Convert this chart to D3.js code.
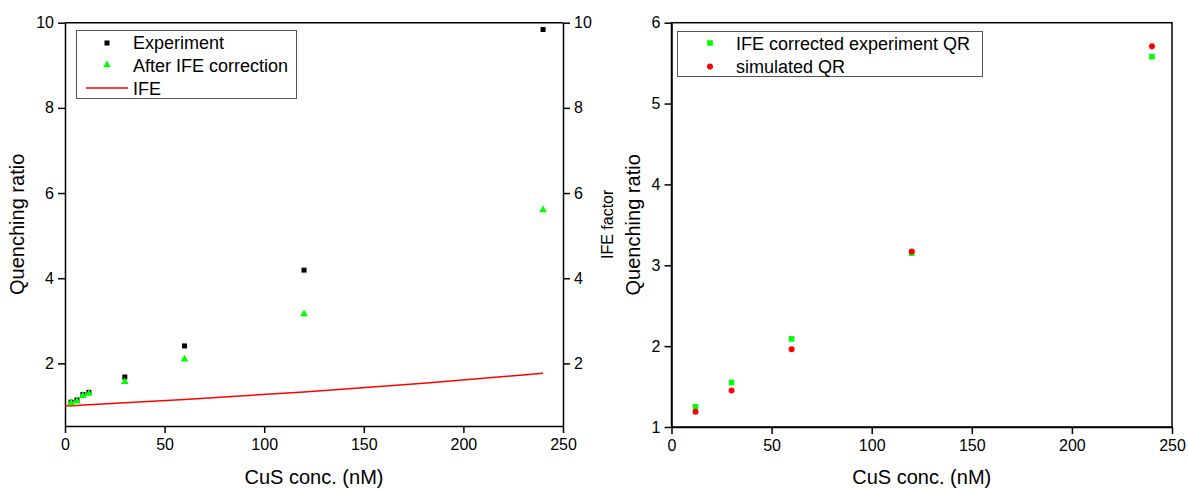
<!DOCTYPE html>
<html>
<head>
<meta charset="utf-8">
<script src="https://cdn.jsdelivr.net/npm/d3@7"></script>
<style>
body { margin: 0; background: #fff; }
svg text { font-family: "Liberation Sans", Arial, sans-serif; fill: #000; }
.tick text { font-size: 16px; }
.domain, .tick line { stroke: #000; stroke-width: 1.5px; }
</style>
</head>
<body>
<div id="main"></div>
<script>
// left panel: measured and corrected quenching ratio
var concLeft = [3, 6, 9, 12, 30, 60, 120, 240];
var experiment = [1.09, 1.14, 1.27, 1.32, 1.68, 2.41, 4.19, 9.84];
var afterIFE = [1.07, 1.11, 1.24, 1.29, 1.57, 2.10, 3.16, 5.60];
// IFE factor curve
var ifeConc = [0, 3, 6, 9, 12, 30, 60, 120, 180, 240];
var ifeFactor = [1.0, 1.007, 1.014, 1.022, 1.029, 1.074, 1.153, 1.33, 1.535, 1.77];
// right panel
var concRight = [12, 30, 60, 120, 240];
var correctedQR = [1.25, 1.55, 2.09, 3.15, 5.58];
var simulatedQR = [1.19, 1.45, 1.96, 3.17, 5.71];

var xTicks = [0, 50, 100, 150, 200, 250];

var w = 1188, h = 489;
var svg = d3.select("#main").append("svg").attr("width", w).attr("height", h);

// ---------- left panel ----------
var L = {left: 65, right: 563, top: 22.7, bottom: 426};
var x1 = d3.scaleLinear().domain([0, 250]).range([L.left, L.right]);
var y1 = d3.scaleLinear().domain([0.53, 10]).range([L.bottom, L.top]);

var gl = svg.append("g");
gl.append("line").attr("x1", L.left).attr("x2", L.right).attr("y1", L.top).attr("y2", L.top)
  .attr("stroke", "#000").attr("stroke-width", 1.5);

gl.append("g").attr("transform", "translate(0," + L.bottom + ")")
  .call(d3.axisBottom(x1).tickValues(xTicks).tickSize(7).tickPadding(6).tickSizeOuter(0));
gl.append("g").attr("transform", "translate(" + L.left + ",0)")
  .call(d3.axisLeft(y1).tickValues([2, 4, 6, 8, 10]).tickSize(7).tickPadding(4).tickSizeOuter(0));
gl.append("g").attr("transform", "translate(" + L.right + ",0)")
  .call(d3.axisRight(y1).tickValues([2, 4, 6, 8, 10]).tickSize(7).tickPadding(4).tickSizeOuter(0));

gl.append("path").datum(ifeConc.map(function (d, i) { return [d, ifeFactor[i]]; }))
  .attr("fill", "none").attr("stroke", "#ff0000").attr("stroke-width", 1.5)
  .attr("d", d3.line().x(function (d) { return x1(d[0]); }).y(function (d) { return y1(d[1]); }));

gl.selectAll("rect.exp").data(concLeft).enter().append("rect").attr("class", "exp")
  .attr("x", function (d) { return x1(d) - 2.5; })
  .attr("y", function (d, i) { return y1(experiment[i]) - 2.5; })
  .attr("width", 5).attr("height", 5).attr("fill", "#000");

var tri = d3.symbol().type(d3.symbolTriangle).size(26);
gl.selectAll("path.ife").data(concLeft).enter().append("path").attr("class", "ife")
  .attr("d", tri)
  .attr("transform", function (d, i) { return "translate(" + x1(d) + "," + y1(afterIFE[i]) + ")"; })
  .attr("fill", "#00ff00");

// legend
var lg = gl.append("g");
lg.append("rect").attr("x", 76.5).attr("y", 30.5).attr("width", 220).attr("height", 68)
  .attr("fill", "#fff").attr("stroke", "#555").attr("stroke-width", 1);
lg.append("rect").attr("x", 104.5).attr("y", 40.5).attr("width", 5).attr("height", 5).attr("fill", "#000");
lg.append("path").attr("d", tri).attr("transform", "translate(107,65)").attr("fill", "#00ff00");
lg.append("line").attr("x1", 86).attr("x2", 128).attr("y1", 88).attr("y2", 88)
  .attr("stroke", "#ff0000").attr("stroke-width", 1.5);
var legL = ["Experiment", "After IFE correction", "IFE"];
lg.selectAll("text").data(legL).enter().append("text")
  .attr("x", 133)
  .attr("y", function (d, i) { return 49 + i * 23; })
  .style("font-size", "18px").text(function (d) { return d; });

gl.append("text").attr("transform", "translate(24," + ((L.top + L.bottom) / 2) + ") rotate(-90)")
  .attr("text-anchor", "middle").style("font-size", "20px").text("Quenching ratio");
gl.append("text").attr("transform", "translate(613," + ((L.top + L.bottom) / 2) + ") rotate(-90)")
  .attr("text-anchor", "middle").style("font-size", "16px").text("IFE factor");
gl.append("text").attr("x", (L.left + L.right) / 2).attr("y", 484)
  .attr("text-anchor", "middle").style("font-size", "20px").text("CuS conc. (nM)");

// ---------- right panel ----------
var R = {left: 671.5, right: 1172, top: 22.7, bottom: 427};
var x2 = d3.scaleLinear().domain([0, 250]).range([R.left, R.right]);
var y2 = d3.scaleLinear().domain([1, 6]).range([R.bottom, R.top]);

var gr = svg.append("g");
gr.append("rect").attr("x", R.left).attr("y", R.top).attr("width", R.right - R.left)
  .attr("height", R.bottom - R.top).attr("fill", "none").attr("stroke", "#000").attr("stroke-width", 1.5);
gr.append("g").attr("transform", "translate(0," + R.bottom + ")")
  .call(d3.axisBottom(x2).tickValues(xTicks).tickSize(7).tickPadding(6).tickSizeOuter(0));
gr.append("g").attr("transform", "translate(" + R.left + ",0)")
  .call(d3.axisLeft(y2).tickValues([1, 2, 3, 4, 5, 6]).tickFormat(d3.format("d"))
    .tickSize(7).tickPadding(4).tickSizeOuter(0));

gr.selectAll("rect.cor").data(concRight).enter().append("rect").attr("class", "cor")
  .attr("x", function (d) { return x2(d) - 2.8; })
  .attr("y", function (d, i) { return y2(correctedQR[i]) - 2.8; })
  .attr("width", 5.6).attr("height", 5.6).attr("fill", "#00ff00");
gr.selectAll("circle.sim").data(concRight).enter().append("circle").attr("class", "sim")
  .attr("cx", function (d) { return x2(d); })
  .attr("cy", function (d, i) { return y2(simulatedQR[i]); })
  .attr("r", 3).attr("fill", "#ff0000");

var rg = gr.append("g");
rg.append("rect").attr("x", 677.5).attr("y", 31.5).attr("width", 305).attr("height", 45)
  .attr("fill", "#fff").attr("stroke", "#555").attr("stroke-width", 1);
rg.append("rect").attr("x", 707.2).attr("y", 40.2).attr("width", 5.6).attr("height", 5.6).attr("fill", "#00ff00");
rg.append("circle").attr("cx", 710).attr("cy", 66.5).attr("r", 3).attr("fill", "#ff0000");
var legR = ["IFE corrected experiment QR", "simulated QR"];
rg.selectAll("text").data(legR).enter().append("text")
  .attr("x", 736).attr("y", function (d, i) { return 49.5 + i * 23; })
  .style("font-size", "18px").text(function (d) { return d; });

gr.append("text").attr("transform", "translate(640," + ((R.top + R.bottom) / 2) + ") rotate(-90)")
  .attr("text-anchor", "middle").style("font-size", "20px").text("Quenching ratio");
gr.append("text").attr("x", (R.left + R.right) / 2).attr("y", 484)
  .attr("text-anchor", "middle").style("font-size", "20px").text("CuS conc. (nM)");
</script>
</body>
</html>
